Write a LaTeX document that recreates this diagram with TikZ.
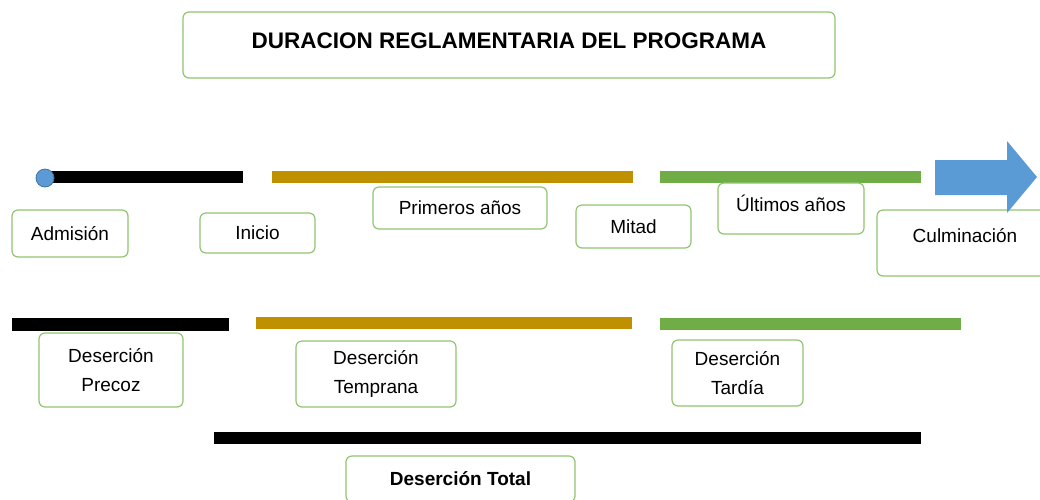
\documentclass[tikz,border=0pt]{standalone}
\usepackage{fontspec}
\setmainfont{Liberation Sans}
\definecolor{boxgreen}{RGB}{145,198,112}
\definecolor{gold}{RGB}{191,144,0}
\definecolor{bargreen}{RGB}{112,173,71}
\definecolor{arrowblue}{RGB}{91,155,213}
\begin{document}
\begin{tikzpicture}[x=1pt,y=-1pt,
  every node/.style={align=center,font=\fontsize{19}{28}\selectfont},
  box/.style={draw=boxgreen,line width=1.2pt,rounded corners=6pt,fill=white,inner sep=0pt},
  two lines/.style={font=\fontsize{19}{29}\selectfont},
  bar/.style={line width=12pt}]
\useasboundingbox (0,0) rectangle (1040,499);
\clip (0,0) rectangle (1040,499);
% title
\node[box,minimum width=652pt,minimum height=66pt,text height=17pt,text depth=10pt,
  font=\fontsize{22.5}{28}\selectfont\bfseries] (title) at (509,45) {DURACION REGLAMENTARIA DEL PROGRAMA};
% time line
\draw[bar,black] (45,177) -- (243,177);
\draw[bar,gold] (272,177) -- (633,177);
\draw[bar,bargreen] (660,177) -- (921,177);
\node[box,minimum width=116pt,minimum height=47pt] (adm) at (70,233.5) {Admisión};
\node[box,minimum width=115pt,minimum height=40pt] (ini) at (257.5,233) {Inicio};
\node[box,minimum width=174pt,minimum height=42pt] (pri) at (460,208) {Primeros años};
\node[box,minimum width=115pt,minimum height=43pt] (mit) at (633.5,226.5) {Mitad};
\node[box,minimum width=146pt,minimum height=51pt,text height=14pt,text depth=8pt] (ult) at (791,208.5) {Últimos años};
\node[box,minimum width=176pt,minimum height=66pt,text height=14pt,text depth=16pt] (cul) at (965,243) {Culminación};
\fill[arrowblue] (935,160) -- (1007,160) -- (1007,141) -- (1037,177)
  -- (1007,213) -- (1007,195) -- (935,195) -- cycle;
\filldraw[fill=arrowblue,draw=arrowblue!75!black,line width=0.8pt] (45,178) circle[radius=9pt];
% desercion
\draw[line width=13pt,black] (12,324.5) -- (229,324.5);
\draw[bar,gold] (256,323) -- (632,323);
\draw[bar,bargreen] (660,323.5) -- (961,323.5);
\node[box,two lines,minimum width=144pt,minimum height=74pt] (pre) at (111,370) {Deserción\\Precoz};
\node[box,two lines,minimum width=160pt,minimum height=66pt] (tem) at (376,374) {Deserción\\Temprana};
\node[box,two lines,minimum width=131pt,minimum height=66pt] (tar) at (737.5,373) {Deserción\\Tardía};
\draw[bar,black] (214,438) -- (921,438);
\node[box,minimum width=229pt,minimum height=46pt,font=\fontsize{19}{28}\selectfont\bfseries] (tot) at (460.5,479) {Deserción Total};
\end{tikzpicture}
\end{document}
